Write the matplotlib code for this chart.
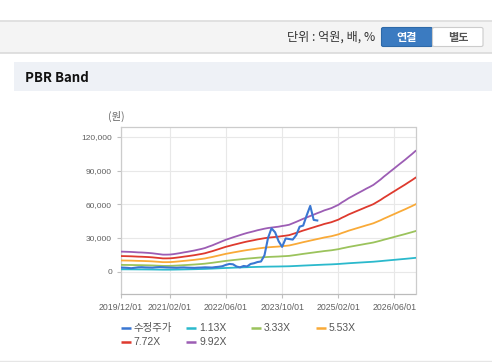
import numpy as np
import pandas as pd
import matplotlib
matplotlib.use('Agg')
import matplotlib.pyplot as plt
from matplotlib.patches import Rectangle, FancyBboxPatch
from matplotlib.lines import Line2D

W, H = 492, 362

# monthly axis, 2019/12 ~ 2026/12
months = pd.date_range('2019-12-01', '2026-12-01', freq='MS')

# BPS (won)
bps = np.array([1794, 1784, 1774, 1764, 1744, 1724, 1714, 1694, 1673, 1643,
                1603, 1563, 1522, 1522, 1532, 1563, 1613, 1663, 1724, 1774,
                1835, 1895, 1966, 2036, 2117, 2238, 2349, 2470, 2601, 2732,
                2863, 2964, 3075, 3175, 3276, 3377, 3468, 3548, 3629, 3710,
                3780, 3851, 3911, 3952, 3992, 4032, 4093, 4143, 4204, 4335,
                4466, 4597, 4738, 4859, 4990, 5111, 5242, 5363, 5494, 5595,
                5696, 5847, 5998, 6200, 6391, 6593, 6764, 6935, 7107, 7278,
                7450, 7611, 7782, 8024, 8266, 8518, 8770, 9022, 9274, 9526,
                9778, 10030, 10292, 10554, 10827])

multiples = [1.13, 3.33, 5.53, 7.72, 9.92]
band_names = ['1.13X', '3.33X', '5.53X', '7.72X', '9.92X']
band_colors = ['#2bb9cc', '#9bc35c', '#f9aa38', '#de3a2e', '#9c5db4']

# adjusted share price, 2019/12 ~ 2024/08
price = np.array([3600, 3500, 3300, 3000, 3400, 3800, 3900, 3700, 3600, 3500,
                  3800, 4000, 3900, 3700, 3600, 3500, 3400, 3600, 3700, 3500,
                  3400, 3300, 3500, 3600, 3800, 3700, 3600, 4000, 4300,
                  4800, 6000, 6800, 6500, 4500, 3800, 5000, 4600, 6800, 7500,
                  8500, 9000, 14500, 30000, 38500, 35000, 27000, 22000, 29500, 29000,
                  28500, 32500, 40000, 41000, 50000, 58500, 46000, 45500])
price_name = '수정주가'
price_color = '#3a77d2'

x_ticks = ['2019/12/01', '2021/02/01', '2022/06/01', '2023/10/01', '2025/02/01', '2026/06/01']
y_ticks = [0, 30000, 60000, 90000, 120000]

LAT_KR = ['Liberation Sans', 'Noto Sans CJK KR']
KR = ['Noto Sans CJK KR', 'DejaVu Sans']


def fx(x):
    return x / W


def fy(y):
    return 1 - y / H


fig = plt.figure(figsize=(W / 100, H / 100), dpi=100)
fig.patch.set_facecolor('white')

# top toolbar
fig.add_artist(Rectangle((0, fy(52.5)), 1, 32 / H, transform=fig.transFigure,
                         facecolor='#f4f4f4', edgecolor='none'))
fig.add_artist(Line2D([0, 1], [fy(21), fy(21)], transform=fig.transFigure, color='#dcdcdc', lw=1.2))
fig.add_artist(Line2D([0, 1], [fy(52.5), fy(52.5)], transform=fig.transFigure, color='#dadada', lw=1.2))
fig.text(fx(375), fy(37.5), '단위 : 억원, 배, %', ha='right', va='center',
         fontsize=8.7, color='#333333', family=KR)

fig.add_artist(FancyBboxPatch((fx(381.5), fy(46.5)), 51 / W, 19 / H, transform=fig.transFigure,
                              boxstyle='round,pad=0,rounding_size=0.004',
                              facecolor='#3b7bc1', edgecolor='#2e69a8', lw=0.8))
fig.text(fx(407), fy(37), '연결', ha='center', va='center', fontsize=8,
         color='white', weight='bold', family=KR)
fig.add_artist(FancyBboxPatch((fx(432.5), fy(46.5)), 50.5 / W, 19 / H, transform=fig.transFigure,
                              boxstyle='round,pad=0,rounding_size=0.004',
                              facecolor='white', edgecolor='#cccccc', lw=0.8))
fig.text(fx(458), fy(37), '별도', ha='center', va='center', fontsize=8,
         color='#555555', weight='bold', family=KR)

# section header
fig.add_artist(Rectangle((fx(14), fy(90.7)), (W - 14) / W, 28.7 / H, transform=fig.transFigure,
                         facecolor='#eef1f6', edgecolor='none'))
fig.text(fx(25), fy(78.5), 'PBR Band', ha='left', va='center', fontsize=9.5,
         color='#111111', weight='bold', family=KR)
fig.add_artist(Line2D([0, 1], [fy(360.5), fy(360.5)], transform=fig.transFigure, color='#e6e6e6', lw=1))

# chart
ax = fig.add_axes([fx(120.7), fy(293.5), (415.5 - 120.7) / W, (293.5 - 126.7) / H])
for m, name, c in zip(multiples, band_names, band_colors):
    ax.plot(months, bps * m, color=c, lw=1.3, zorder=3)
ax.plot(months[:len(price)], price, color=price_color, lw=1.5, zorder=4)

ax.set_xlim(months[0], months[-1])
ax.set_ylim(-19500, 129000)
ax.set_xticks(pd.to_datetime(x_ticks))
ax.set_xticklabels(x_ticks)
ax.set_yticks(y_ticks)
ax.set_yticklabels([f'{v:,}' for v in y_ticks])
ax.grid(True, color='#e8e8e8', lw=0.8, zorder=0)
for s in ax.spines.values():
    s.set_color('#cccccc')
    s.set_linewidth(0.9)
ax.spines['bottom'].set_color('#bbbbbb')
ax.tick_params(axis='both', length=3, width=0.8, color='#c0c0c0', labelcolor='#606060')
ax.tick_params(axis='y', pad=3.2, labelsize=6)
ax.tick_params(axis='x', pad=4, labelsize=6.3)
for lab in ax.get_xticklabels() + ax.get_yticklabels():
    lab.set_family('Liberation Sans')

fig.text(fx(116), fy(116.5), '(원)', ha='center', va='center', fontsize=7.5,
         color='#666666', family=KR)

# legend
entries = [(price_name, price_color)] + list(zip(band_names, band_colors))
cols = [120.7, 186, 250.7, 316]
for i, (name, c) in enumerate(entries):
    x0 = cols[i % 4]
    y0 = 328 if i < 4 else 342
    fig.add_artist(Line2D([fx(x0), fx(x0 + 10)], [fy(y0), fy(y0)], transform=fig.transFigure,
                          color=c, lw=1.8, solid_capstyle='butt'))
    fig.text(fx(x0 + 13), fy(y0), name, ha='left', va='center', fontsize=7.5,
             color='#555555', family=LAT_KR)

fig.savefig('out.png', dpi=100, facecolor='white')
